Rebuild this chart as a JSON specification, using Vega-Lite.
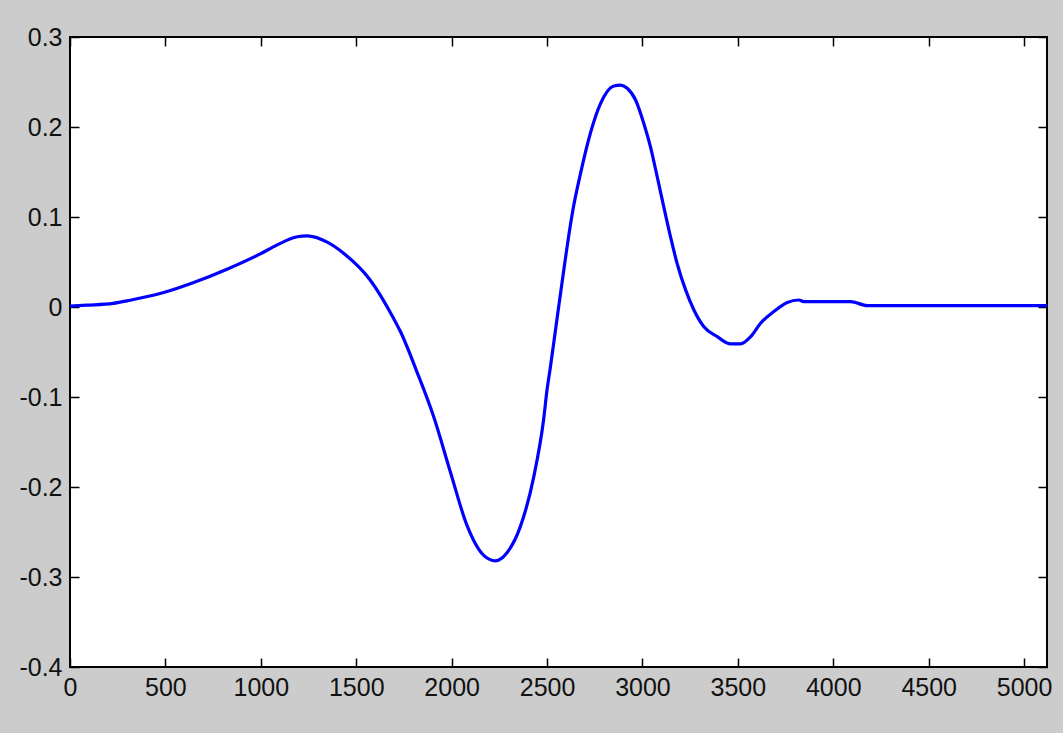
{
  "$schema": "https://vega.github.io/schema/vega-lite/v6.json",
  "width": 977,
  "height": 630,
  "autosize": {"type": "none"},
  "padding": {"left": 70, "top": 37, "right": 16, "bottom": 66},
  "background": "#cccccc",
  "config": {
    "view": {"fill": "white", "stroke": "black", "strokeWidth": 2},
    "axis": {
      "domain": false,
      "grid": false,
      "tickColor": "black",
      "tickWidth": 1.5,
      "tickSize": -9,
      "labelFont": "Liberation Sans",
      "labelFontSize": 25,
      "labelColor": "#111111",
      "title": null
    }
  },
  "data": {
    "values": [
      {"t": 0, "v": 0.001},
      {"t": 89, "v": 0.002},
      {"t": 226, "v": 0.004},
      {"t": 315, "v": 0.0075},
      {"t": 472, "v": 0.015},
      {"t": 645, "v": 0.027},
      {"t": 823, "v": 0.042},
      {"t": 997, "v": 0.059},
      {"t": 1086, "v": 0.069},
      {"t": 1191, "v": 0.078},
      {"t": 1243, "v": 0.079},
      {"t": 1348, "v": 0.072},
      {"t": 1432, "v": 0.06},
      {"t": 1573, "v": 0.03},
      {"t": 1694, "v": -0.012},
      {"t": 1731, "v": -0.027},
      {"t": 1818, "v": -0.072},
      {"t": 1906, "v": -0.122},
      {"t": 1993, "v": -0.183},
      {"t": 2081, "v": -0.243},
      {"t": 2168, "v": -0.276},
      {"t": 2229, "v": -0.282},
      {"t": 2290, "v": -0.273},
      {"t": 2360, "v": -0.244},
      {"t": 2430, "v": -0.189},
      {"t": 2482, "v": -0.125},
      {"t": 2500, "v": -0.092},
      {"t": 2518, "v": -0.066},
      {"t": 2553, "v": -0.012},
      {"t": 2587, "v": 0.04},
      {"t": 2623, "v": 0.092},
      {"t": 2640, "v": 0.113},
      {"t": 2675, "v": 0.148},
      {"t": 2727, "v": 0.193},
      {"t": 2780, "v": 0.226},
      {"t": 2850, "v": 0.2456},
      {"t": 2885, "v": 0.2465},
      {"t": 2920, "v": 0.243},
      {"t": 2964, "v": 0.23},
      {"t": 3007, "v": 0.204},
      {"t": 3042, "v": 0.178},
      {"t": 3077, "v": 0.145},
      {"t": 3112, "v": 0.111},
      {"t": 3147, "v": 0.078},
      {"t": 3182, "v": 0.048},
      {"t": 3226, "v": 0.019},
      {"t": 3269, "v": -0.003},
      {"t": 3322, "v": -0.022},
      {"t": 3392, "v": -0.033},
      {"t": 3462, "v": -0.041},
      {"t": 3514, "v": -0.041},
      {"t": 3567, "v": -0.033},
      {"t": 3619, "v": -0.018},
      {"t": 3689, "v": -0.005},
      {"t": 3759, "v": 0.005},
      {"t": 3820, "v": 0.0078},
      {"t": 3845, "v": 0.006},
      {"t": 4091, "v": 0.006},
      {"t": 4179, "v": 0.0015},
      {"t": 5120, "v": 0.0015}
    ]
  },
  "layer": [
    {
      "mark": {"type": "line", "color": "#0000ff", "strokeWidth": 3.2, "interpolate": "monotone"},
      "encoding": {
        "x": {
          "field": "t", "type": "quantitative",
          "scale": {"domain": [0, 5120], "nice": false, "zero": false},
          "axis": {"orient": "bottom", "values": [0, 500, 1000, 1500, 2000, 2500, 3000, 3500, 4000, 4500, 5000], "labelPadding": 17, "labelFlush": false, "labelOverlap": false,
                   "labelExpr": "toString(datum.value)"}
        },
        "y": {
          "field": "v", "type": "quantitative",
          "scale": {"domain": [-0.4, 0.3], "nice": false, "zero": false},
          "axis": {"orient": "left", "values": [-0.4, -0.3, -0.2, -0.1, 0, 0.1, 0.2, 0.3], "labelPadding": 17, "labelFlush": false, "labelOverlap": false,
                   "labelExpr": "toString(round(datum.value * 10) / 10)"}
        }
      }
    },
    {
      "mark": {"type": "line", "opacity": 0},
      "encoding": {
        "x": {
          "field": "t", "type": "quantitative",
          "axis": {"orient": "top", "values": [0, 500, 1000, 1500, 2000, 2500, 3000, 3500, 4000, 4500, 5000], "labels": false}
        },
        "y": {
          "field": "v", "type": "quantitative",
          "axis": {"orient": "right", "values": [-0.4, -0.3, -0.2, -0.1, 0, 0.1, 0.2, 0.3], "labels": false}
        }
      }
    }
  ],
  "resolve": {"axis": {"x": "independent", "y": "independent"}}
}
